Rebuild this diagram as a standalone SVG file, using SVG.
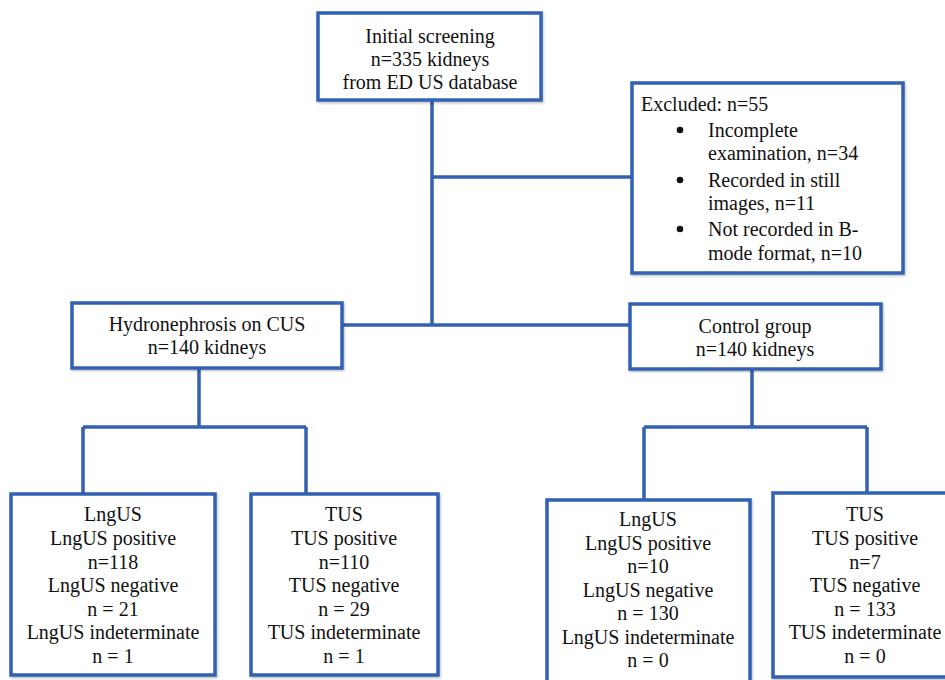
<svg xmlns="http://www.w3.org/2000/svg" width="945" height="680" viewBox="0 0 945 680">
<defs>
<filter id="sh" x="-5%" y="-5%" width="110%" height="110%">
<feDropShadow dx="1" dy="1.5" stdDeviation="1" flood-color="#000" flood-opacity="0.25"/>
</filter>
</defs>
<style>
.box{fill:#fff;stroke:#3361B2;stroke-width:3.5;filter:url(#sh)}
.ln{fill:none;stroke:#3361B2;stroke-width:3.5;stroke-linejoin:miter}
.t{font-family:"Liberation Serif","Times New Roman",serif;font-size:20px;fill:#111}
.c{text-anchor:middle}
</style>
<rect width="945" height="680" fill="#fff"/>
<g id="connectors">
<path class="ln" d="M432 100 V325"/>
<path class="ln" d="M432 177 H632"/>
<path class="ln" d="M342 325 H630"/>
<path class="ln" d="M199 368 V427 M83 427 H306 M83 427 V494 M306 427 V494"/>
<path class="ln" d="M752 369 V427 M644 427 H867 M644 427 V500 M867 427 V493"/>
</g>
<g class="t">
<g id="initial">
<rect class="box" x="318" y="13" width="223" height="87"/>
<text class="c" x="430" y="43">Initial screening</text>
<text class="c" x="430" y="66">n=335 kidneys</text>
<text class="c" x="430" y="89">from ED US database</text>
</g>
<g id="excluded">
<rect class="box" x="632" y="83" width="271" height="190"/>
<text x="641" y="111">Excluded: n=55</text>
<circle cx="680" cy="130" r="3.3" fill="#111"/>
<text x="708" y="137">Incomplete</text>
<text x="708" y="160">examination, n=34</text>
<circle cx="680" cy="180" r="3.3" fill="#111"/>
<text x="708" y="187">Recorded in still</text>
<text x="708" y="210">images, n=11</text>
<circle cx="680" cy="229" r="3.3" fill="#111"/>
<text x="708" y="236">Not recorded in B-</text>
<text x="708" y="260">mode format, n=10</text>
</g>
<g id="hydro">
<rect class="box" x="72" y="303" width="270" height="65"/>
<text class="c" x="207" y="331">Hydronephrosis on CUS</text>
<text class="c" x="207" y="354">n=140 kidneys</text>
</g>
<g id="control">
<rect class="box" x="630" y="304" width="251" height="65"/>
<text class="c" x="755" y="333">Control group</text>
<text class="c" x="755" y="356">n=140 kidneys</text>
</g>
<g id="hydro-lngus">
<rect class="box" x="11" y="494" width="204" height="181"/>
<text class="c" x="113" y="521">LngUS</text>
<text class="c" x="113" y="545">LngUS positive</text>
<text class="c" x="113" y="569">n=118</text>
<text class="c" x="113" y="592">LngUS negative</text>
<text class="c" x="113" y="616">n = 21</text>
<text class="c" x="113" y="639">LngUS indeterminate</text>
<text class="c" x="113" y="663">n = 1</text>
</g>
<g id="hydro-tus">
<rect class="box" x="251" y="494" width="187" height="181"/>
<text class="c" x="344" y="521">TUS</text>
<text class="c" x="344" y="545">TUS positive</text>
<text class="c" x="344" y="569">n=110</text>
<text class="c" x="344" y="592">TUS negative</text>
<text class="c" x="344" y="616">n = 29</text>
<text class="c" x="344" y="639">TUS indeterminate</text>
<text class="c" x="344" y="663">n = 1</text>
</g>
<g id="control-lngus">
<rect class="box" x="547" y="500" width="203" height="190"/>
<text class="c" x="648" y="526">LngUS</text>
<text class="c" x="648" y="550">LngUS positive</text>
<text class="c" x="648" y="573">n=10</text>
<text class="c" x="648" y="597">LngUS negative</text>
<text class="c" x="648" y="620">n = 130</text>
<text class="c" x="648" y="644">LngUS indeterminate</text>
<text class="c" x="648" y="667">n = 0</text>
</g>
<g id="control-tus">
<rect class="box" x="773" y="493" width="185" height="184"/>
<text class="c" x="865" y="521">TUS</text>
<text class="c" x="865" y="545">TUS positive</text>
<text class="c" x="865" y="569">n=7</text>
<text class="c" x="865" y="592">TUS negative</text>
<text class="c" x="865" y="616">n = 133</text>
<text class="c" x="865" y="639">TUS indeterminate</text>
<text class="c" x="865" y="663">n = 0</text>
</g>
</g>
</svg>
